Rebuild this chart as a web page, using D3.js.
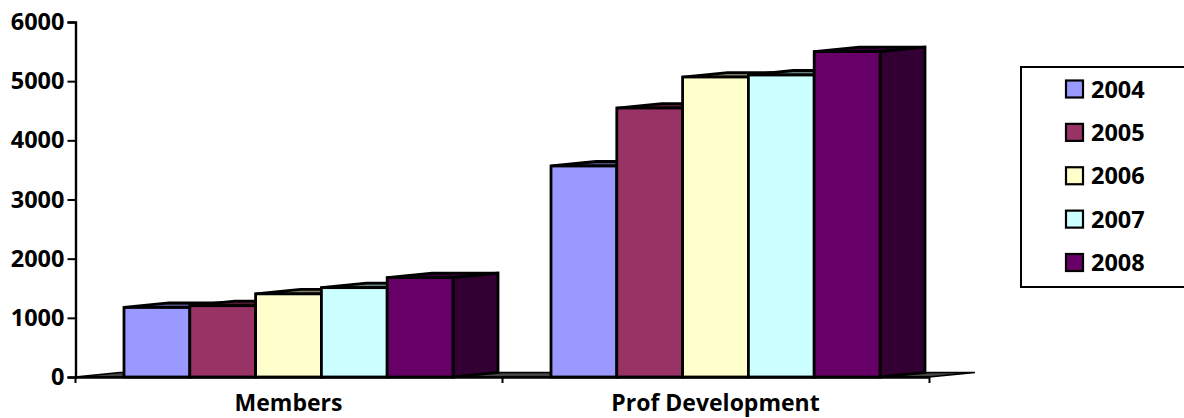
<!DOCTYPE html>
<html>
<head>
<meta charset="utf-8">
<script src="https://cdn.jsdelivr.net/npm/d3@7"></script>
<style>
  html, body { margin: 0; padding: 0; background: #fff; overflow: hidden; }
  text { font-family: "Open Sans", Lato, sans-serif; font-weight: 700; fill: #000; }
</style>
</head>
<body>
<div id="chart"></div>
<script>
const categories = ["Members", "Prof Development"];
const years = ["2004", "2005", "2006", "2007", "2008"];
const membersValues = [1175, 1205, 1405, 1510, 1680];
const profValues = [3566, 4546, 5070, 5104, 5500];
const yTicks = [0, 1000, 2000, 3000, 4000, 5000, 6000];
const colors = ["#9999ff", "#993366", "#ffffcc", "#ccffff", "#660066"];

const width = 1184, height = 418;
const depthX = 45, depthY = 4.5;
const labelFont = "\"Open Sans\", Lato, sans-serif";

const svg = d3.select("#chart").append("svg")
    .attr("width", width)
    .attr("height", height)
    .style("display", "block");

const x0 = d3.scaleBand().domain(categories).range([75, 929]);
const x1 = d3.scaleBand().domain(years).range([49, 378]);
const y = d3.scaleLinear().domain([0, 6000]).range([377, 22]);

const darker = c => {
    const o = d3.rgb(c);
    return d3.rgb(o.r / 2, o.g / 2, o.b / 2).formatHex();
};

// floor of the 3d plot
const floor = [
    [x0.range()[0], y(0)],
    [x0.range()[0] + depthX, y(0) - depthY],
    [x0.range()[1] + depthX + 1, y(0) - depthY],
    [x0.range()[1], y(0)]
];
svg.append("polygon")
    .attr("points", floor.join(" "))
    .attr("fill", "#444")
    .attr("stroke", "#000")
    .attr("stroke-width", 1.5);

const rows = categories.flatMap((c, i) => {
    const vals = i === 0 ? membersValues : profValues;
    return years.map((yr, j) => ({ cat: c, year: yr, value: vals[j], color: colors[j] }));
});

const bars = svg.append("g").selectAll("g")
    .data(rows)
    .enter()
    .append("g")
    .attr("stroke", "#000")
    .attr("stroke-width", 2.8)
    .attr("stroke-linejoin", "miter");

const left = d => x0(d.cat) + x1(d.year);
const right = d => left(d) + x1.bandwidth();

bars.append("polygon")
    .attr("fill", d => darker(d.color))
    .attr("points", d => [
        [left(d), y(d.value)],
        [left(d) + depthX, y(d.value) - depthY],
        [right(d) + depthX, y(d.value) - depthY],
        [right(d), y(d.value)]
    ].join(" "));

bars.append("polygon")
    .attr("fill", d => darker(d.color))
    .attr("points", d => [
        [right(d), y(d.value)],
        [right(d) + depthX, y(d.value) - depthY],
        [right(d) + depthX, y(0) - depthY],
        [right(d), y(0)]
    ].join(" "));

bars.append("rect")
    .attr("fill", d => d.color)
    .attr("x", left)
    .attr("y", d => y(d.value))
    .attr("width", x1.bandwidth())
    .attr("height", d => y(0) - y(d.value));

// axes
const yAxis = svg.append("g")
    .attr("transform", "translate(75.5,0)")
    .call(d3.axisLeft(y).tickValues(yTicks).tickFormat(d3.format("d")).tickSize(8).tickPadding(3));

const xAxis = svg.append("g")
    .attr("transform", `translate(0,${y(0)})`)
    .call(d3.axisBottom(x0).tickSize(0).tickPadding(18));

xAxis.selectAll(".tick text").attr("font-size", 23).style("font-family", labelFont);
yAxis.selectAll(".tick text").attr("font-size", 23.5).style("font-family", labelFont);
svg.selectAll(".domain").attr("stroke", "#000").attr("stroke-width", 2.4);
svg.selectAll(".tick line").attr("stroke", "#000").attr("stroke-width", 2);

// band edge ticks on the x axis
svg.append("g").selectAll("line")
    .data([x0.range()[0], x0(categories[1]), x0.range()[1]])
    .enter()
    .append("line")
    .attr("x1", d => d + 0.5)
    .attr("x2", d => d + 0.5)
    .attr("y1", y(0))
    .attr("y2", y(0) + 6)
    .attr("stroke", "#000")
    .attr("stroke-width", 2);

// legend, the box runs off the right edge
const legendY = d3.scalePoint().domain(years).range([88.5, 262]);
svg.append("rect")
    .attr("x", 1021)
    .attr("y", 67)
    .attr("width", 200)
    .attr("height", 220)
    .attr("fill", "#fff")
    .attr("stroke", "#000")
    .attr("stroke-width", 2);

const legendItems = svg.append("g").selectAll("g")
    .data(years)
    .enter()
    .append("g")
    .attr("transform", d => `translate(0,${legendY(d)})`);

legendItems.append("rect")
    .attr("x", 1066)
    .attr("y", -8)
    .attr("width", 17)
    .attr("height", 17)
    .attr("fill", (d, i) => colors[i])
    .attr("stroke", "#000")
    .attr("stroke-width", 2.2);

legendItems.append("text")
    .attr("x", 1091)
    .attr("y", 9)
    .attr("font-size", 23.5)
    .text(d => d);
</script>
</body>
</html>
